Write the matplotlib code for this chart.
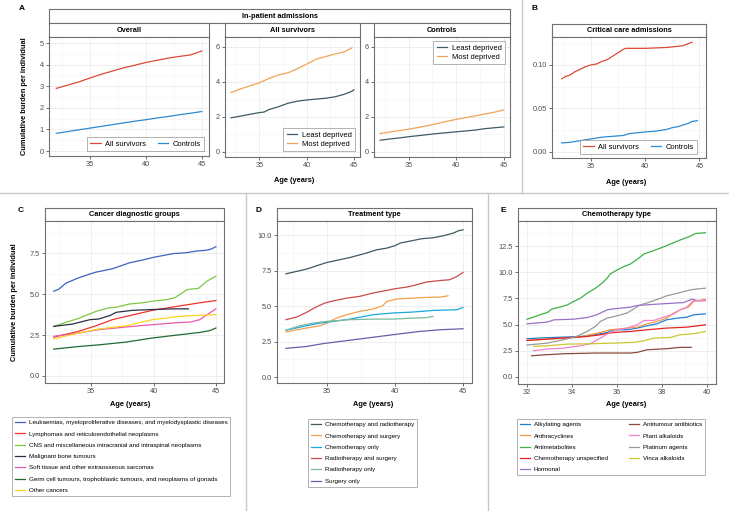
import matplotlib
matplotlib.use('Agg')
from matplotlib import pyplot as plt
from matplotlib.lines import Line2D

plt.rcParams['font.family'] = ['Liberation Sans', 'DejaVu Sans']

W, H = 729, 511

# ---- A: in-patient admissions ----
overall_age = [32, 33, 34, 35, 36, 37, 38, 39, 40, 41, 42, 43, 44, 45]
overall_surv = [2.9, 3.05, 3.2, 3.38, 3.55, 3.7, 3.85, 3.97, 4.1, 4.2, 4.3, 4.38, 4.45, 4.63]
overall_ctrl = [0.82, 0.9, 0.98, 1.06, 1.14, 1.22, 1.3, 1.38, 1.45, 1.53, 1.6, 1.68, 1.75, 1.83]

surv_age = [32, 33, 34, 35, 35.5, 36, 37, 38, 39, 40, 41, 42, 43, 44, 44.8, 45]
surv_least = [1.95, 2.05, 2.15, 2.25, 2.28, 2.42, 2.58, 2.78, 2.9, 2.97, 3.02, 3.07, 3.15, 3.3, 3.47, 3.55]
surv_most_age = [32, 33, 34, 35, 36, 37, 38, 39, 40, 41, 42, 43, 44, 44.8]
surv_most = [3.4, 3.6, 3.78, 3.95, 4.2, 4.4, 4.52, 4.75, 5.02, 5.3, 5.45, 5.6, 5.72, 5.95]

ctrl_age = [32, 33, 34, 35, 36, 37, 38, 39, 40, 41, 42, 43, 44, 45]
ctrl_least = [0.67, 0.74, 0.8, 0.87, 0.93, 0.99, 1.05, 1.1, 1.15, 1.2, 1.25, 1.33, 1.38, 1.43]
ctrl_most = [1.05, 1.14, 1.22, 1.3, 1.4, 1.5, 1.62, 1.75, 1.86, 1.96, 2.06, 2.17, 2.27, 2.4]

# ---- B: critical care admissions ----
cc_surv_age = [32.3, 32.7, 33, 33.5, 34, 34.5, 35, 35.5, 36, 36.5, 37, 37.5, 38, 38.2,
               40, 42, 43.5, 44.3]
cc_surv = [0.084, 0.087, 0.088, 0.092, 0.095, 0.098, 0.100, 0.101, 0.104, 0.106, 0.110,
           0.114, 0.118, 0.119, 0.119, 0.120, 0.122, 0.126]
cc_ctrl_age = [32.3, 33, 34, 35, 36, 37, 38, 38.5, 40, 41, 42, 42.5, 43, 44, 44.3, 44.8]
cc_ctrl = [0.0105, 0.011, 0.013, 0.015, 0.017, 0.018, 0.019, 0.021, 0.023, 0.024, 0.026,
           0.028, 0.029, 0.033, 0.035, 0.036]

# ---- C: cancer diagnostic groups ----
c_labels = [
    'Leukaemias, myeloproliferative diseases, and myelodysplastic diseases',
    'Lymphomas and reticuloendothelial neoplasms',
    'CNS and miscellaneous intracranial and intraspinal neoplasms',
    'Malignant bone tumours',
    'Soft tissue and other extraosseous sarcomas',
    'Germ cell tumours, trophoblastic tumours, and neoplasms of gonads',
    'Other cancers',
]
c_colors = ['#3D62C4', '#F0322C', '#7DC843', '#2A2E45', '#E85AAE', '#1F6B32', '#FFD31F']
c_x = [
    [32, 32.4, 33, 34, 35.3, 36.7, 38.1, 39.1, 40, 41.6, 42.6, 43.4, 44.2, 44.6, 45],
    [32, 33, 34, 35.4, 36.7, 38.1, 39.9, 41.6, 42.6, 43.7, 45],
    [32, 33, 34, 35.4, 36.4, 37, 38.1, 39.1, 39.9, 41.1, 41.7, 42.7, 43.6, 44.3, 45],
    [32, 33.5, 34.9, 35.6, 36.5, 37, 38.3, 39.9, 41.6, 42.8],
    [32, 34, 35.6, 37.8, 38.9, 39.9, 41.6, 43, 43.7, 44.3, 45],
    [32, 34, 35.6, 37.8, 39.9, 42.1, 43.7, 44.5, 45],
    [32, 34, 35.6, 37.8, 39.9, 42.1, 43.7, 45],
]
c_y = [
    [5.18, 5.3, 5.68, 6.0, 6.33, 6.55, 6.92, 7.08, 7.25, 7.48, 7.53, 7.63, 7.68, 7.75, 7.9],
    [2.38, 2.55, 2.73, 3.07, 3.44, 3.69, 4.01, 4.22, 4.34, 4.47, 4.61],
    [3.03, 3.28, 3.52, 3.95, 4.16, 4.2, 4.4, 4.47, 4.57, 4.67, 4.78, 5.28, 5.35, 5.8, 6.1],
    [3.03, 3.17, 3.44, 3.48, 3.69, 3.89, 4.01, 4.06, 4.1, 4.1],
    [2.42, 2.62, 2.83, 2.99, 3.07, 3.13, 3.24, 3.3, 3.44, 3.75, 4.1],
    [1.64, 1.8, 1.9, 2.07, 2.32, 2.52, 2.66, 2.77, 2.93],
    [2.27, 2.62, 2.87, 3.07, 3.44, 3.64, 3.71, 3.75],
]

# ---- D: treatment type ----
d_labels = ['Chemotherapy and radiotherapy', 'Chemotherapy and surgery', 'Chemotherapy only',
            'Radiotherapy and surgery', 'Radiotherapy only', 'Surgery only']
d_colors = ['#3E5862', '#F0A04E', '#1CA8E0', '#CC4A4A', '#7DB99B', '#6B5BAA']
d_x = [
    [32, 33.5, 35, 35.5, 36.7, 37.9, 38.65, 39.4, 40, 40.4, 41.35, 41.96, 42.8, 43.55, 44.3,
     44.65, 45],
    [32, 33.5, 34.5, 35, 35.7, 36.45, 37.4, 38.4, 39.1, 39.4, 40.1, 41.35, 42.3, 43.3, 43.9],
    [32, 33.5, 34.5, 35.5, 36.7, 38.4, 39.85, 41.35, 42.8, 44.55, 45],
    [32, 32.8, 33.5, 34.2, 34.85, 35.5, 36.45, 37.4, 38.4, 39.4, 40, 40.9, 41.6, 42.3, 43.3,
     44, 44.55, 45],
    [32, 33, 34, 35, 36.7, 38.4, 39.85, 41.35, 42.3, 42.8],
    [32, 33.5, 34.7, 36, 37.9, 39.85, 41.8, 43.3, 45],
]
d_y = [
    [7.27, 7.6, 8.07, 8.17, 8.42, 8.73, 8.96, 9.08, 9.25, 9.44, 9.62, 9.74, 9.81, 9.95, 10.14,
     10.3, 10.37],
    [3.18, 3.45, 3.61, 3.8, 4.15, 4.39, 4.62, 4.79, 5.02, 5.32, 5.49, 5.56, 5.61, 5.63, 5.72],
    [3.3, 3.61, 3.8, 3.92, 4.08, 4.39, 4.51, 4.58, 4.69, 4.74, 4.9],
    [4.04, 4.23, 4.55, 4.93, 5.21, 5.37, 5.56, 5.68, 5.92, 6.1, 6.22, 6.34, 6.5, 6.69, 6.8,
     6.85, 7.08, 7.37],
    [3.3, 3.61, 3.8, 3.92, 4.04, 4.08, 4.08, 4.15, 4.18, 4.27],
    [2.02, 2.15, 2.35, 2.51, 2.74, 2.98, 3.21, 3.33, 3.4],
]

# ---- E: chemotherapy type ----
e_labels = ['Alkylating agents', 'Anthracyclines', 'Antimetabolites', 'Chemotherapy unspecified',
            'Hormonal', 'Antitumour antibiotics', 'Plant alkaloids', 'Platinum agents',
            'Vinca alkaloids']
e_colors = ['#1F80D2', '#F49B42', '#3DB144', '#E82222', '#9B70C9', '#8A4B3B', '#F282CB',
            '#9A9A9A', '#C9C832']
e_x = [
    [32, 32.44, 32.9, 33.63, 34.37, 34.96, 35.56, 35.85, 36.44, 36.9, 37.33, 37.78, 38.2, 38.67,
     39.1, 39.4, 39.93],
    [32, 32.9, 33.8, 34.37, 34.8, 35.26, 35.7, 36, 36.44, 36.9, 37.33, 37.78, 38.2, 38.52, 38.8,
     39.18, 39.4, 39.93],
    [32, 32.15, 32.44, 32.9, 33.1, 33.55, 33.8, 34.07, 34.37, 34.67, 35.04, 35.33, 35.56, 35.7,
     36, 36.3, 36.6, 36.9, 37.2, 37.5, 37.9, 38.15, 38.44, 38.8, 39.2, 39.5, 39.93],
    [32, 32.9, 33.8, 34.67, 35.26, 35.85, 36.6, 37.33, 38.2, 39.1, 39.93],
    [32, 32.9, 33.2, 34.07, 34.67, 35.1, 35.56, 35.85, 36.6, 36.9, 37.33, 37.93, 38.5, 38.96,
     39.33, 39.63, 39.93],
    [32.2, 32.9, 33.63, 35.1, 36.6, 36.9, 37.33, 38.2, 38.8, 39.3],
    [32.3, 32.9, 33.63, 34.37, 34.8, 35.26, 35.63, 36, 36.44, 36.9, 37.2, 37.63, 38.07, 38.52,
     38.8, 39.1, 39.4, 39.93],
    [32, 32.9, 33.63, 34.2, 34.67, 35.04, 35.26, 35.56, 36, 36.44, 36.8, 37.04, 37.4, 37.93,
     38.2, 38.8, 39.26, 39.56, 39.93],
    [32.3, 32.9, 33.8, 34.8, 35.85, 36.74, 37.2, 37.63, 38.37, 38.8, 39.4, 39.93],
]
e_y = [
    [3.65, 3.71, 3.75, 3.81, 3.87, 4.03, 4.25, 4.51, 4.51, 4.67, 4.89, 5.08, 5.46, 5.62, 5.71,
     5.94, 6.03],
    [3.49, 3.62, 3.71, 3.81, 4.03, 4.25, 4.51, 4.57, 4.67, 4.76, 5.08, 5.3, 5.62, 6.1, 6.41,
     6.67, 7.21, 7.43],
    [5.52, 5.62, 5.84, 6.16, 6.48, 6.73, 6.89, 7.21, 7.52, 8.0, 8.48, 8.95, 9.43, 9.84, 10.22,
     10.54, 10.79, 11.24, 11.75, 11.97, 12.29, 12.5, 12.76, 13.08, 13.4, 13.71, 13.78],
    [3.49, 3.62, 3.75, 3.87, 4.03, 4.25, 4.35, 4.51, 4.67, 4.76, 4.98],
    [5.08, 5.24, 5.46, 5.52, 5.68, 5.94, 6.41, 6.51, 6.67, 6.83, 6.89, 6.98, 7.05, 7.11, 7.43,
     7.27, 7.3],
    [2.03, 2.13, 2.22, 2.29, 2.29, 2.35, 2.6, 2.7, 2.83, 2.83],
    [2.51, 2.67, 2.76, 2.98, 3.17, 3.71, 4.19, 4.51, 4.67, 4.98, 5.4, 5.4, 5.71, 6.03, 6.41,
     6.67, 7.3, 7.3],
    [3.05, 3.24, 3.56, 3.87, 4.35, 4.83, 5.3, 5.62, 5.84, 6.1, 6.57, 6.89, 7.11, 7.52, 7.75,
     8.06, 8.32, 8.41, 8.48],
    [2.92, 2.98, 3.14, 3.17, 3.24, 3.3, 3.46, 3.71, 3.78, 4.03, 4.13, 4.35],
]

RED = '#DC4A35'
BLUE = '#2C8BD0'
LEAST = '#3E5A66'
MOST = '#F2A356'
EDGE = '#707070'
FS = 5.3

fig = plt.figure(figsize=(W / 100, H / 100), dpi=100)


def box(l, t, r, b):
    return [l / W, 1 - b / H, (r - l) / W, (b - t) / H]


def strip(l, t, r, b, text):
    ax = fig.add_axes(box(l, t, r, b))
    ax.set_xticks([])
    ax.set_yticks([])
    for s in ax.spines.values():
        s.set_color(EDGE)
        s.set_linewidth(0.8)
    ax.text(0.5, 0.5, text, ha='center', va='center', fontsize=FS, fontweight='bold',
            transform=ax.transAxes)
    return ax


def panel(l, t, r, b, xlim, ylim, xticks, yticks, xminor, yminor, ylabels):
    ax = fig.add_axes(box(l, t, r, b))
    ax.set_xlim(*xlim)
    ax.set_ylim(*ylim)
    ax.set_xticks(xticks)
    ax.set_xticklabels([str(v) for v in xticks])
    ax.set_yticks(yticks)
    ax.set_yticklabels(ylabels)
    ax.set_xticks(xminor, minor=True)
    ax.set_yticks(yminor, minor=True)
    ax.grid(which='major', color='#EBEBEB', lw=0.6)
    ax.grid(which='minor', color='#F4F4F4', lw=0.4)
    ax.set_axisbelow(True)
    ax.tick_params(which='major', labelsize=FS, colors='#333333', length=2.2, width=0.5,
                   pad=1.5, labelcolor='#4D4D4D')
    ax.tick_params(which='minor', length=0)
    for s in ax.spines.values():
        s.set_color(EDGE)
        s.set_linewidth(0.8)
    return ax


def legend(ax, handles, labels, x, y, loc, ncol=1, fs=5.4, hl=1.4, sp=0.25, cs=1.5):
    leg = ax.legend(handles, labels, loc=loc, bbox_to_anchor=(x / W, 1 - y / H),
                    bbox_transform=fig.transFigure, borderaxespad=0, ncol=ncol,
                    fontsize=fs, frameon=True, fancybox=False, handlelength=hl,
                    handletextpad=0.6, labelspacing=sp, columnspacing=cs,
                    borderpad=0.45)
    leg.get_frame().set_edgecolor('#909090')
    leg.get_frame().set_linewidth(0.6)
    return leg


LW = 0.9
xt = [35, 40, 45]
xm = [32.5, 37.5, 42.5]
xl = (31.35, 45.65)
BFS = 4.5   # bottom legend font size
BSP = 0.95  # bottom legend row spacing

# ---- panel A ----
strip(49, 9, 510, 23, 'In-patient admissions')
strip(49, 23, 209, 37, 'Overall')
strip(225, 23, 360, 37, 'All survivors')
strip(374, 23, 510, 37, 'Controls')

ax = panel(49, 37, 209, 156, xl, (-0.23, 5.28), xt, [0, 1, 2, 3, 4, 5], xm,
           [0.5, 1.5, 2.5, 3.5, 4.5], ['0', '1', '2', '3', '4', '5'])
h1, = ax.plot(overall_age, overall_surv, color=RED, lw=LW)
h2, = ax.plot(overall_age, overall_ctrl, color=BLUE, lw=LW)
legend(ax, [h1, h2], ['All survivors', 'Controls'], 204, 151, 'lower right', ncol=2)

ax = panel(225, 37, 360, 157, xl, (-0.29, 6.57), xt, [0, 2, 4, 6], xm, [1, 3, 5],
           ['0', '2', '4', '6'])
h1, = ax.plot(surv_age, surv_least, color=LEAST, lw=LW)
h2, = ax.plot(surv_most_age, surv_most, color=MOST, lw=LW)
legend(ax, [h1, h2], ['Least deprived', 'Most deprived'], 355, 151, 'lower right')

ax = panel(374, 37, 510, 157, xl, (-0.29, 6.57), xt, [0, 2, 4, 6], xm, [1, 3, 5],
           ['0', '2', '4', '6'])
h1, = ax.plot(ctrl_age, ctrl_least, color=LEAST, lw=LW)
h2, = ax.plot(ctrl_age, ctrl_most, color=MOST, lw=LW)
legend(ax, [h1, h2], ['Least deprived', 'Most deprived'], 505, 41, 'upper right')

fig.text(25 / W, 1 - 96 / H, 'Cumulative burden per individual', rotation=90, ha='center',
         va='center', fontsize=FS, fontweight='bold')
fig.text(294 / W, 1 - 180 / H, 'Age (years)', ha='center', va='center', fontsize=FS,
         fontweight='bold')
fig.text(22 / W, 1 - 9 / H, 'A', ha='center', va='center', fontsize=6, fontweight='bold')

# ---- panel B ----
strip(552, 24, 706, 37, 'Critical care admissions')
ax = panel(552, 37, 706, 158, (31.4, 45.6), (-0.0069, 0.132), xt, [0, 0.05, 0.10], xm,
           [0.025, 0.075, 0.125], ['0.00', '0.05', '0.10'])
h1, = ax.plot(cc_surv_age, cc_surv, color=RED, lw=LW)
h2, = ax.plot(cc_ctrl_age, cc_ctrl, color=BLUE, lw=LW)
legend(ax, [h1, h2], ['All survivors', 'Controls'], 697, 154, 'lower right', ncol=2)
fig.text(626 / W, 1 - 182 / H, 'Age (years)', ha='center', va='center', fontsize=FS,
         fontweight='bold')
fig.text(535 / W, 1 - 8 / H, 'B', ha='center', va='center', fontsize=6, fontweight='bold')

# ---- panel C ----
strip(45, 208, 224, 221, 'Cancer diagnostic groups')
ax = panel(45, 221, 224, 383, (31.3, 45.65), (-0.43, 9.47), xt, [0, 2.5, 5, 7.5], xm,
           [1.25, 3.75, 6.25, 8.75], ['0.0', '2.5', '5.0', '7.5'])
hs = []
for xs, ys, col in zip(c_x, c_y, c_colors):
    h, = ax.plot(xs, ys, color=col, lw=LW)
    hs.append(h)
legend(ax, hs, c_labels, 12, 417, 'upper left', fs=BFS, hl=1.6, sp=BSP)
fig.text(15 / W, 1 - 302 / H, 'Cumulative burden per individual', rotation=90, ha='center',
         va='center', fontsize=FS, fontweight='bold')
fig.text(130 / W, 1 - 404 / H, 'Age (years)', ha='center', va='center', fontsize=FS,
         fontweight='bold')
fig.text(21 / W, 1 - 210 / H, 'C', ha='center', va='center', fontsize=6, fontweight='bold')

# ---- panel D ----
strip(277, 208, 472, 221, 'Treatment type')
ax = panel(277, 221, 472, 383, (31.34, 45.66), (-0.42, 10.99), xt, [0, 2.5, 5, 7.5, 10],
           xm, [1.25, 3.75, 6.25, 8.75], ['0.0', '2.5', '5.0', '7.5', '10.0'])
hs = []
for xs, ys, col in zip(d_x, d_y, d_colors):
    h, = ax.plot(xs, ys, color=col, lw=LW)
    hs.append(h)
legend(ax, hs, d_labels, 308, 419, 'upper left', fs=BFS, hl=1.6, sp=BSP)
fig.text(373 / W, 1 - 404 / H, 'Age (years)', ha='center', va='center', fontsize=FS,
         fontweight='bold')
fig.text(258 / W, 1 - 210 / H, 'D', ha='center', va='center', fontsize=6, fontweight='bold')

# ---- panel E ----
strip(518, 208, 716, 221, 'Chemotherapy type')
ax = panel(518, 221, 716, 384, (31.6, 40.4), (-0.67, 14.9), [32, 34, 36, 38, 40],
           [0, 2.5, 5, 7.5, 10, 12.5], [33, 35, 37, 39], [1.25, 3.75, 6.25, 8.75, 11.25, 13.75],
           ['0.0', '2.5', '5.0', '7.5', '10.0', '12.5'])
hs = []
for xs, ys, col in zip(e_x, e_y, e_colors):
    h, = ax.plot(xs, ys, color=col, lw=LW)
    hs.append(h)
# legend fills column-wise: 5 entries left, 4 right
legend(ax, hs, e_labels, 517, 419, 'upper left', ncol=2, fs=BFS, hl=1.6, sp=BSP, cs=3.5)
fig.text(626 / W, 1 - 404 / H, 'Age (years)', ha='center', va='center', fontsize=FS,
         fontweight='bold')
fig.text(503 / W, 1 - 210 / H, 'E', ha='center', va='center', fontsize=6, fontweight='bold')

# panel dividers
div = dict(color='#C8C8C8', lw=1.0, transform=fig.transFigure)
fig.add_artist(Line2D([0, 1], [1 - 193 / H, 1 - 193 / H], **div))
fig.add_artist(Line2D([522 / W, 522 / W], [1, 1 - 193 / H], **div))
fig.add_artist(Line2D([246 / W, 246 / W], [1 - 193 / H, 0], **div))
fig.add_artist(Line2D([488 / W, 488 / W], [1 - 193 / H, 0], **div))

fig.savefig('out.png', dpi=100)
